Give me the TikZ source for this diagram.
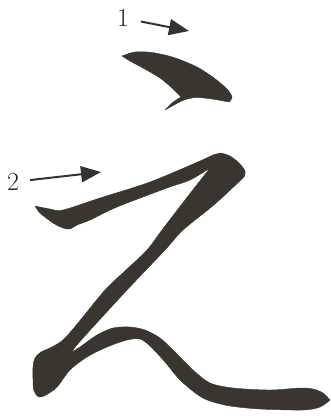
\documentclass[tikz,border=0pt]{standalone}
\usetikzlibrary{arrows.meta,positioning}
\definecolor{inkstone}{RGB}{58,53,47}
\tikzset{
    brush/.style={fill=inkstone, draw=inkstone, line width=0.4pt, line join=round},
    order/.style={font=\fontsize{26}{28}\selectfont, inner sep=2pt, text=black!85},
    pointer/.style={-{Triangle[length=20pt,width=16pt]}, line width=2pt, draw=black!80}
}
\begin{document}
\begin{tikzpicture}[x=1pt, y=-1pt]
    \useasboundingbox (0,0) rectangle (331,418);

    % Stroke order labels and arrows
    \node[order] (one) at (123,18) {1};
    \node[order] (two) at (13,182) {2};
    \coordinate (tip1) at (189,31);
    \coordinate (tip2) at (101,172);
    \draw[pointer, shorten <=10pt] (one) -- (tip1);
    \draw[pointer, shorten <=9pt] (two) -- (tip2);

    % Stroke 1 (dot with hook)
    \fill[brush]
        plot[smooth] coordinates {(122,56) (135,52) (152,52.5) (174,57.5) (197,67) (214,78) (227,89) (232,97) (229,102)}
        -- plot[smooth] coordinates {(229,102) (212,99) (196,97.5) (184,100) (174,105) (165,110)}
        -- plot[smooth] coordinates {(165,110) (172,103) (181,97)}
        -- plot[smooth] coordinates {(181,97) (172,88) (160,78) (143,68) (130,61) (122,56)}
        -- cycle;

    % Stroke 2 (turn, diagonal and wave)
    \fill[brush]
        plot[smooth] coordinates {(35,206) (50,209) (63,210) (100,198) (150,182) (200,161) (213,155) (221,153)}
        -- plot[smooth] coordinates {(221,153) (230,156) (239,163) (245,171) (244,177)}
        -- plot[smooth] coordinates {(244,177) (215,204) (183,230) (165,250) (127,290) (93,327) (76,346) (72,352)}
        -- plot[smooth] coordinates {(72,352) (80,347) (97,335) (113,328) (130,327) (145,330) (160,338) (173,350)
            (193,370) (210,383) (233,388) (270,390) (300,388) (313,389) (323,393) (330,400)}
        -- plot[smooth] coordinates {(330,400) (320,407) (303,410) (260,409) (230,406) (210,401) (198,395)
            (180,380) (165,362) (150,346) (140,339) (127,340) (107,347) (87,357) (70,370) (57,387) (46,395)
            (39,397) (34,391) (33,380) (33,367) (35,358) (41,352) (50,348) (63,340) (78,323) (105,290)
            (126,270) (147,250) (162,230) (185,200) (210,168)}
        -- plot[smooth] coordinates {(210,168) (190,180) (167,188) (117,207) (90,220) (77,225) (70,229)
            (63,228) (53,223) (40,213) (35,206)}
        -- cycle;
\end{tikzpicture}
\end{document}
